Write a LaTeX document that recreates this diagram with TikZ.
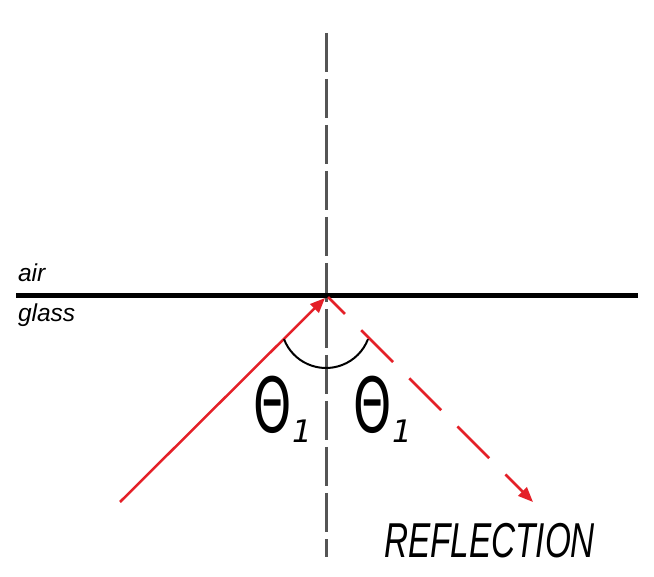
\documentclass[tikz,border=0pt]{standalone}
\usepackage{fontspec}
\usetikzlibrary{arrows.meta}
\newfontfamily\mediumfont{Liberation Sans}
\newfontfamily\reflfont[FakeStretch=0.68]{Liberation Sans}
\newfontfamily\thetafont[FakeStretch=0.64]{DejaVu Sans}
\newfontfamily\subfont{DejaVu Sans}
\definecolor{rayred}{RGB}{228,32,40}
\definecolor{normalgray}{RGB}{85,85,85}
\begin{document}
\begin{tikzpicture}[x=1pt,y=-1pt,
  txt/.style={anchor=base west,inner sep=0pt,outer sep=0pt},
  medium/.style={txt,font=\mediumfont\itshape\fontsize{24.5}{24.5}\selectfont},
  theta/.style={txt,font=\thetafont\fontsize{76}{76}\selectfont},
  sub/.style={txt,font=\subfont\itshape\fontsize{31}{31}\selectfont},
  refl/.style={txt,font=\reflfont\itshape\fontsize{49}{49}\selectfont},
  normal/.style={draw=normalgray,line width=3pt,dash pattern=on 39pt off 7pt},
  surface/.style={draw=black,line width=5pt},
  ray/.style={draw=rayred,line width=2.5pt,-{Triangle[length=15pt,width=12pt]}},
  reflray/.style={ray,dash pattern=on 45pt off 23pt,dash phase=21pt},
  anglearc/.style={draw=black,line width=2pt}]
\useasboundingbox (0,0) rectangle (654,577);
\coordinate (top) at (326,33);
\coordinate (bot) at (326,557);
\coordinate (L) at (16,295.5);
\coordinate (R) at (638,295.5);
\coordinate (O) at (325,298);
\coordinate (O2) at (328,297);
\coordinate (A) at (120,502);
\coordinate (B) at (533,502);
\coordinate (C) at (326,323);
\draw[normal] (top) -- (bot);
\draw[surface] (L) -- (R);
\draw[ray] (A) -- (O);
\draw[reflray] (O2) -- (B);
\draw[anglearc] ([shift={(159:45)}]C) arc[start angle=159,end angle=21,radius=45];
\node[medium] (air) at (18,282) {air};
\node[medium] (glass) at (18,322) {glass};
\node[theta] (t1) at (253,433) {Θ};
\node[sub] (s1) at (292,443) {1};
\node[theta] (t2) at (353,433) {Θ};
\node[sub] (s2) at (392,443) {1};
\node[refl] (refl) at (384,557) {REFLECTION};
\end{tikzpicture}
\end{document}
